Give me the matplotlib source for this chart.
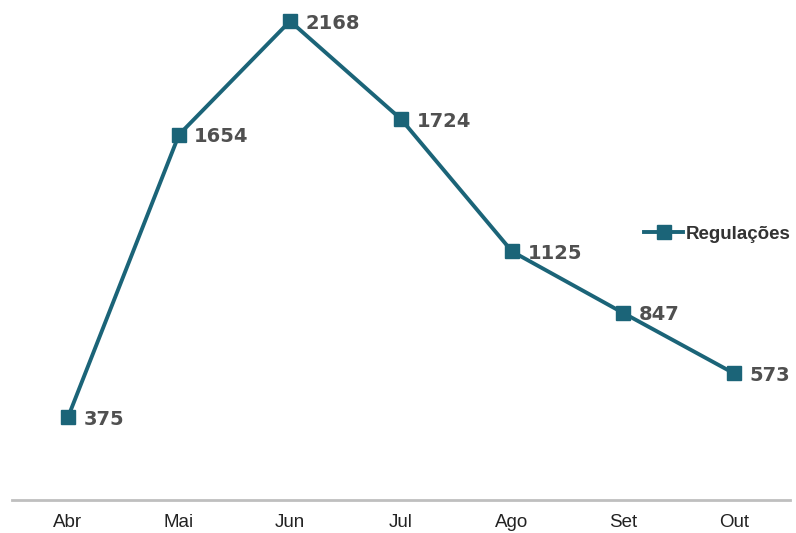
import matplotlib.pyplot as plt

months = ['Abr', 'Mai', 'Jun', 'Jul', 'Ago', 'Set', 'Out']
regulacoes = [375, 1654, 2168, 1724, 1125, 847, 573]

line_color = '#1b6478'
label_color = '#505050'

fig = plt.figure(figsize=(7.96, 5.33), dpi=100)
ax = fig.add_axes([0.0157, 0.0619, 0.9763, 0.9325])

x = range(len(months))
ax.plot(x, regulacoes, color=line_color, lw=2.8, marker='s', markersize=10.5,
        label='Regulações', clip_on=False, zorder=3)

# rótulos de valor ao lado de cada ponto
for i, v in enumerate(regulacoes):
    ax.annotate(str(v), (i, v), xytext=(11, -1.5), textcoords='offset points',
                ha='left', va='center', fontsize=14, fontweight='bold',
                family='DejaVu Sans', color=label_color)

ax.set_xlim(-0.5, len(months) - 0.5)
ax.set_ylim(0, 2250)
ax.set_xticks(list(x))
ax.set_xticklabels(months, fontsize=13.5, family='Liberation Sans', color='#222222')
ax.tick_params(axis='x', length=0, pad=10)
ax.set_yticks([])
for s in ['top', 'right', 'left']:
    ax.spines[s].set_visible(False)
ax.spines['bottom'].set_color('#bfbfbf')
ax.spines['bottom'].set_linewidth(2)

leg = ax.legend(loc='center left', bbox_to_anchor=(0.803, 0.535), frameon=False,
                handlelength=2.1, handletextpad=0.15, borderaxespad=0,
                prop={'family': 'Liberation Sans', 'weight': 'bold', 'size': 13.5})
for t in leg.get_texts():
    t.set_color('#333333')

fig.savefig('out.png', dpi=100)
